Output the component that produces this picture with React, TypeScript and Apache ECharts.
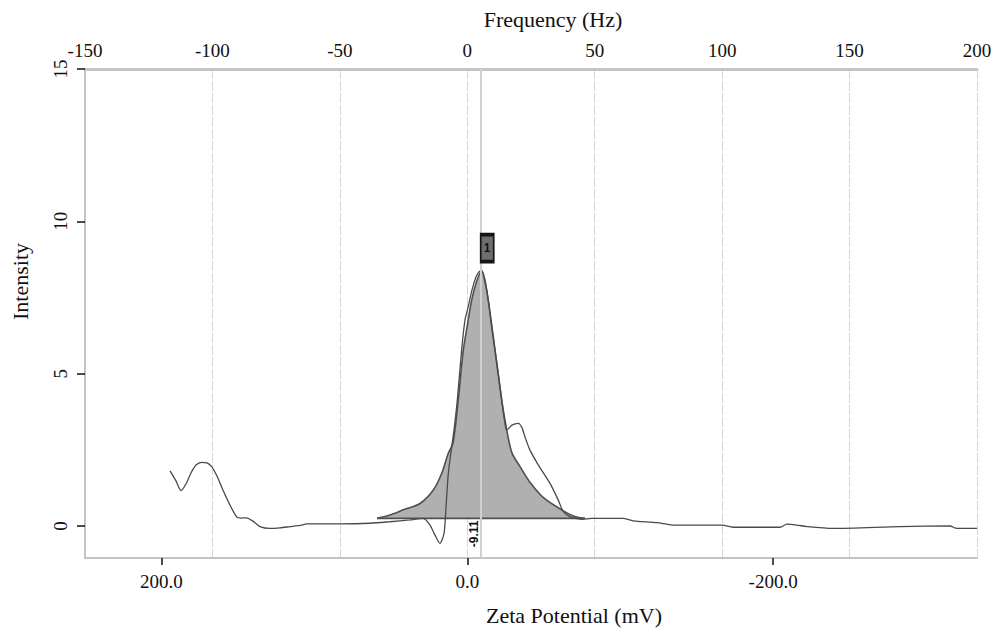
import React, { useEffect, useRef } from "react";
import * as echarts from "echarts";

// Frequency axis (top) in Hz
const freqMin = -150;
const freqMax = 200;
const freqStep = 50;
// Zeta potential (bottom) in mV: zeta = -5/3 * frequency
const zetaPerHz = -5 / 3;
const zetaTicks = [200, 0, -200];
const intensityTicks = [0, 5, 10, 15];
const intensityMin = -1.05;
const intensityMax = 15;

// measured curve (zeta mV, intensity)
const measuredZeta = [
  194.4, 190.5, 187.2, 184.0, 180.7, 177.4, 173.7, 170.3, 167.2, 163.7, 159.8, 155.2,
  150.8, 148.0, 144.3, 140.2, 135.6, 129.0, 122.5, 116.0, 109.4, 105.0, 83.3, 63.7,
  50.7, 37.5, 28.8, 24.4, 21.1, 17.9, 15.2, 13.9, 12.4, 10.2, 8.7, 6.5, 3.7, 1.5,
  -0.65, -3.1, -5.7, -7.65, -9.42, -11.6, -13.7, -15.8, -18.1, -20.4, -22.5, -24.3,
  -25.8, -29.2, -33.4, -35.8, -37.7, -41.0, -46.5, -54.1, -59.5, -62.8, -67.2, -74.8,
  -81.4, -101.8, -108.4, -124.1, -134.5, -166.6, -173.8, -204.5, -209.1, -215.5,
  -222.1, -239.1, -282.9, -315.6, -320.1, -333.3,
];
const measuredIntensity = [
  1.81, 1.48, 1.16, 1.38, 1.74, 2.0, 2.09, 2.07, 1.95, 1.64, 1.18, 0.69,
  0.3, 0.26, 0.27, 0.16, -0.02, -0.08, -0.06, -0.02, 0.02, 0.07, 0.07, 0.09,
  0.14, 0.2, 0.25, 0.03, -0.3, -0.57, -0.24, 0.63, 1.73, 2.6, 3.15, 4.14, 5.78, 6.76,
  7.2, 7.75, 8.17, 8.34, 8.38, 8.07, 7.42, 6.6, 5.78, 4.96, 4.14, 3.48,
  3.15, 3.31, 3.37, 3.22, 2.93, 2.49, 2.0, 1.4, 0.85, 0.47, 0.31, 0.22,
  0.25, 0.25, 0.17, 0.11, 0.03, 0.03, -0.04, -0.04, 0.06, 0.03,
  -0.02, -0.08, -0.02, 0.0, -0.08, -0.08,
];

// fitted peak (zeta mV, intensity)
const fitZeta = [
  59.0, 50.6, 41.9, 30.9, 22.2, 16.7, 12.4, 9.35, 5.9, 2.6, -0.1, -2.9, -6.0, -9.42,
  -11.6, -13.7, -18.1, -22.5, -25.8, -29.2, -34.5, -41.5, -50.0, -61.7, -70.4, -76.9,
];
const fitIntensity = [
  0.25, 0.36, 0.53, 0.74, 1.18, 1.73, 2.39, 2.72, 4.14, 5.78, 6.6, 7.42, 8.01, 8.38,
  8.01, 7.42, 5.78, 4.14, 3.15, 2.4, 1.95, 1.4, 0.92, 0.53, 0.31, 0.25,
];
const fitBaseline = 0.25;
const peakZeta = -9.11;
const peakLabel = "1";
const peakLabelIntensity = 9.12;
const peakValueLabelIntensity = -0.26;

const serif = "'Liberation Serif', 'Times New Roman', serif";
const sans = "'Liberation Sans', Arial, sans-serif";

export default function App() {
  const ref = useRef<HTMLDivElement>(null);
  useEffect(() => {
    const chart = echarts.init(ref.current!, null, { renderer: "svg" });
    const measured = measuredZeta.map((z, i) => [z, measuredIntensity[i]]);
    const fit = fitZeta.map((z, i) => [z, fitIntensity[i]]);
    const baseline = [
      [fitZeta[0], fitBaseline],
      [fitZeta[fitZeta.length - 1], fitBaseline],
    ];
    chart.setOption({
      animation: false,
      backgroundColor: "#ffffff",
      textStyle: { fontFamily: serif },
      grid: { left: 85, right: 23, top: 69, bottom: 70, containLabel: false, outerBoundsMode: "none" },
      xAxis: [
        {
          type: "value",
          position: "top",
          min: freqMin,
          max: freqMax,
          interval: freqStep,
          name: "Frequency (Hz)",
          nameLocation: "middle",
          nameGap: 39,
          nameTextStyle: { fontFamily: serif, fontSize: 22, color: "#111", padding: [0, 0, 0, 44] },
          axisLine: { show: true, onZero: false, lineStyle: { color: "#c4c4c4", width: 3 } },
          axisTick: { show: false },
          axisLabel: { margin: 9, fontSize: 19, color: "#111", fontFamily: serif },
          splitLine: { show: true, lineStyle: { color: "#d6d6d6", width: 1, type: [10, 2] } },
        },
        {
          type: "value",
          position: "bottom",
          inverse: true,
          min: freqMax * zetaPerHz,
          max: freqMin * zetaPerHz,
          name: "Zeta Potential (mV)",
          nameLocation: "middle",
          nameGap: 46,
          nameTextStyle: { fontFamily: serif, fontSize: 22, color: "#111", padding: [0, 0, 0, 86] },
          axisLine: { show: true, onZero: false, lineStyle: { color: "#c4c4c4", width: 2 } },
          axisTick: { show: true, customValues: zetaTicks, length: 7, lineStyle: { color: "#111", width: 1.5 } },
          axisLabel: {
            customValues: zetaTicks,
            formatter: (v: number) => v.toFixed(1),
            margin: 14,
            fontSize: 19,
            color: "#111",
            fontFamily: serif,
          },
          splitLine: { show: false },
        },
      ],
      yAxis: {
        type: "value",
        min: intensityMin,
        max: intensityMax,
        name: "Intensity",
        nameLocation: "middle",
        nameGap: 54,
        nameTextStyle: { fontFamily: serif, fontSize: 22, color: "#111", padding: [0, 0, 0, 64] },
        axisLine: { show: true, onZero: false, lineStyle: { color: "#c4c4c4", width: 2 } },
        axisTick: { show: true, customValues: intensityTicks, length: 8, lineStyle: { color: "#111", width: 1.5 } },
        axisLabel: { customValues: intensityTicks, rotate: 90, margin: 15, fontSize: 19, color: "#111", fontFamily: serif },
        splitLine: { show: false },
      },
      series: [
        {
          type: "line",
          xAxisIndex: 1,
          data: fit,
          smooth: 0.3,
          symbol: "none",
          lineStyle: { color: "#505050", width: 1.6 },
          areaStyle: { color: "#b0b0b0", opacity: 1, origin: fitBaseline },
          z: 2,
          markLine: {
            silent: true,
            symbol: "none",
            lineStyle: { color: "#d0d0d0", width: 2, type: "solid" },
            label: { show: false },
            data: [{ xAxis: peakZeta }],
          },
          markPoint: {
            silent: true,
            data: [
              {
                coord: [peakZeta, peakLabelIntensity],
                symbol: "rect",
                symbolSize: [13, 27],
                symbolOffset: [6, 0],
                itemStyle: { color: "#6e6e6e", borderColor: "#151515", borderWidth: 2.5 },
                label: {
                  show: true,
                  position: "inside",
                  formatter: peakLabel,
                  color: "#111",
                  fontFamily: sans,
                  fontWeight: "bold",
                  fontSize: 12,
                },
              },
              {
                coord: [peakZeta, peakValueLabelIntensity],
                symbol: "circle",
                symbolSize: 1,
                itemStyle: { color: "rgba(0,0,0,0)" },
                label: {
                  show: true,
                  position: "inside",
                  offset: [0, -7],
                  rotate: 90,
                  formatter: String(peakZeta),
                  color: "#111",
                  fontFamily: sans,
                  fontWeight: "bold",
                  fontSize: 12,
                },
              },
            ],
          },
        },
        {
          type: "line",
          xAxisIndex: 1,
          data: baseline,
          symbol: "none",
          lineStyle: { color: "#505050", width: 1.6 },
          z: 3,
        },
        {
          type: "line",
          xAxisIndex: 1,
          data: measured,
          smooth: 0.25,
          symbol: "none",
          lineStyle: { color: "#4a4a4a", width: 1.3 },
          z: 4,
        },
      ],
    });
    return () => chart.dispose();
  }, []);
  return (
    <div
      ref={ref}
      style={{ position: "absolute", left: 0, top: 0, width: 1000, height: 628, background: "#fff" }}
    />
  );
}
